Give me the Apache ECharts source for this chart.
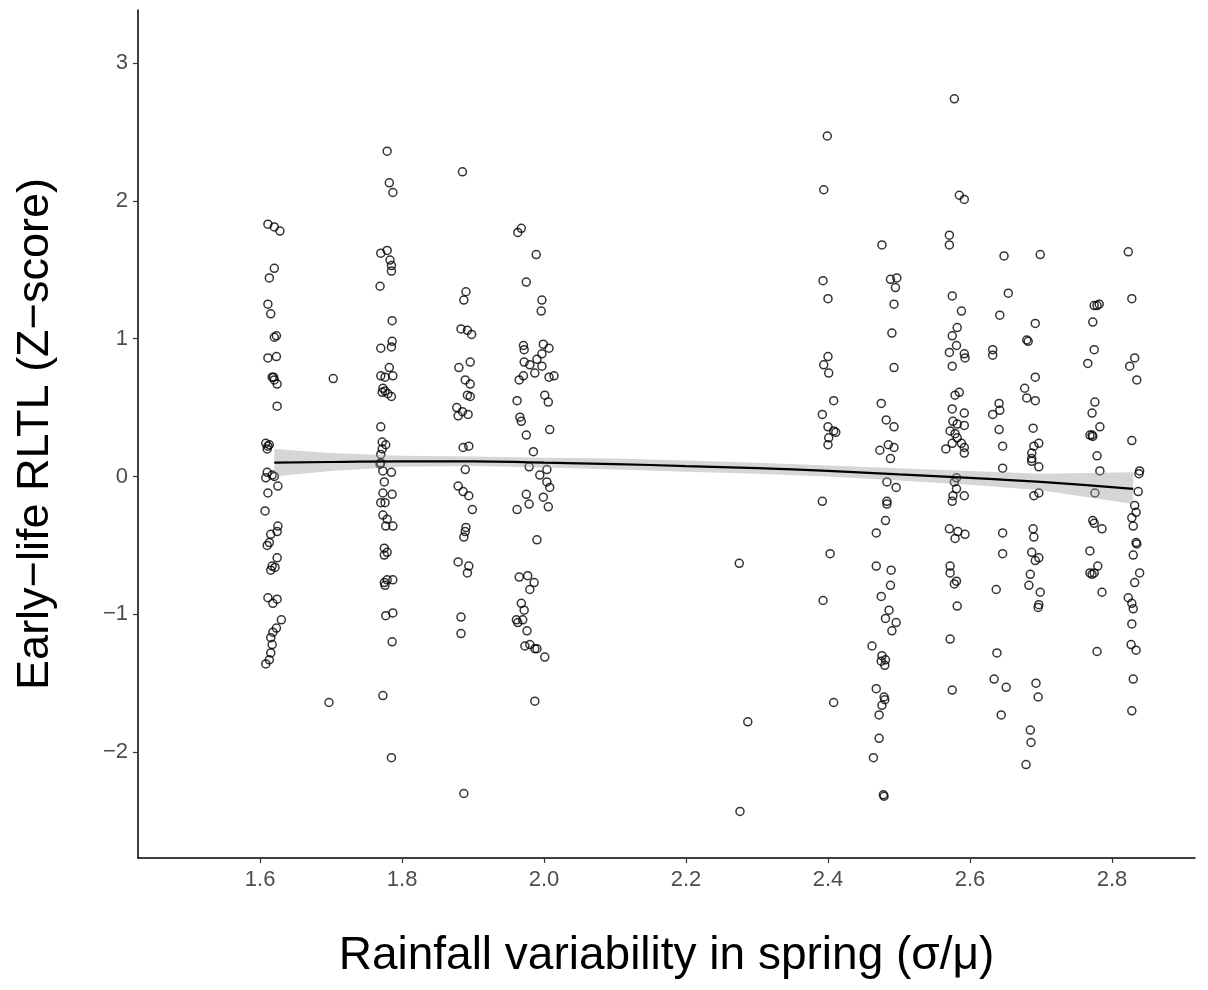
<!DOCTYPE html>
<html>
<head>
<meta charset="utf-8">
<script src="https://cdn.jsdelivr.net/npm/echarts@6/dist/echarts.min.js"></script>
<style>
  html, body { margin: 0; padding: 0; background: #fff; }
  #chart { width: 1208px; height: 990px; }
</style>
</head>
<body>
<div id="chart"></div>
<script>
// ticks
const xTicks = [1.6, 1.8, 2.0, 2.2, 2.4, 2.6, 2.8];
const yTicks = [-2, -1, 0, 1, 2, 3];

// observed points, grouped by rainfall value
const grp161 = [
  [1.611,1.83],[1.620,1.81],[1.628,1.78],[1.620,1.51],[1.613,1.44],[1.611,1.25],[1.615,1.18],
  [1.620,1.01],[1.623,1.02],[1.611,0.86],[1.623,0.87],[1.617,0.72],[1.620,0.70],[1.624,0.67],
  [1.619,0.72],[1.624,0.51],[1.608,0.24],[1.613,0.23],[1.610,0.20],[1.611,0.22],[1.610,0.03],
  [1.608,-0.01],[1.620,0.00],[1.617,0.01],[1.611,-0.12],[1.625,-0.07],[1.607,-0.25],[1.625,-0.36],
  [1.624,-0.40],[1.615,-0.42],[1.610,-0.50],[1.613,-0.48],[1.624,-0.59],[1.617,-0.65],[1.615,-0.68],
  [1.621,-0.66],[1.611,-0.88],[1.618,-0.92],[1.624,-0.89],[1.630,-1.04],[1.623,-1.10],[1.618,-1.13],
  [1.615,-1.17],[1.617,-1.22],[1.615,-1.28],[1.608,-1.36],[1.613,-1.33]
];
const grp170 = [[1.703,0.71],[1.697,-1.64]];
const grp178 = [
  [1.779,2.36],[1.782,2.13],[1.787,2.06],[1.770,1.62],[1.779,1.64],[1.783,1.57],[1.785,1.53],
  [1.785,1.49],[1.769,1.38],[1.786,1.13],[1.786,0.98],[1.785,0.94],[1.770,0.93],[1.782,0.79],
  [1.770,0.73],[1.776,0.72],[1.787,0.73],[1.773,0.64],[1.772,0.61],[1.776,0.62],[1.780,0.60],
  [1.785,0.58],[1.770,0.36],[1.772,0.25],[1.777,0.23],[1.772,0.20],[1.770,0.16],[1.770,0.10],
  [1.769,0.09],[1.773,0.04],[1.785,0.03],[1.775,-0.04],[1.773,-0.12],[1.786,-0.13],[1.770,-0.19],
  [1.776,-0.19],[1.773,-0.28],[1.779,-0.31],[1.777,-0.36],[1.787,-0.36],[1.775,-0.52],[1.779,-0.55],
  [1.775,-0.57],[1.775,-0.77],[1.779,-0.75],[1.787,-0.75],[1.776,-0.79],[1.777,-1.01],[1.787,-0.99],
  [1.786,-1.20],[1.773,-1.59],[1.785,-2.04]
];
const grp188 = [
  [1.885,2.21],[1.890,1.34],[1.887,1.28],[1.883,1.07],[1.892,1.06],[1.898,1.03],[1.880,0.79],
  [1.896,0.83],[1.889,0.70],[1.896,0.67],[1.892,0.59],[1.896,0.58],[1.877,0.50],[1.885,0.47],
  [1.879,0.44],[1.893,0.45],[1.886,0.21],[1.894,0.22],[1.889,0.05],[1.879,-0.07],[1.886,-0.11],
  [1.894,-0.14],[1.899,-0.24],[1.890,-0.37],[1.889,-0.40],[1.887,-0.44],[1.879,-0.62],[1.894,-0.65],
  [1.892,-0.70],[1.883,-1.02],[1.883,-1.14],[1.887,-2.30]
];
const grp198 = [
  [1.968,1.80],[1.963,1.77],[1.989,1.61],[1.975,1.41],[1.997,1.28],[1.996,1.20],[1.971,0.95],
  [1.972,0.92],[1.999,0.96],[2.007,0.93],[1.997,0.89],[1.990,0.85],[1.972,0.83],[1.980,0.81],
  [1.997,0.80],[1.987,0.75],[1.971,0.73],[1.965,0.70],[2.007,0.72],[2.014,0.73],[1.962,0.55],
  [2.001,0.59],[2.006,0.54],[1.966,0.43],[1.968,0.40],[2.008,0.34],[1.975,0.30],[1.985,0.18],
  [1.979,0.07],[2.004,0.05],[1.994,0.01],[2.004,-0.04],[2.008,-0.08],[1.975,-0.13],[1.999,-0.15],
  [1.979,-0.20],[2.006,-0.22],[1.962,-0.24],[1.990,-0.46],[1.965,-0.73],[1.977,-0.72],[1.986,-0.77],
  [1.980,-0.82],[1.968,-0.92],[1.972,-0.97],[1.961,-1.04],[1.963,-1.06],[1.970,-1.04],[1.976,-1.12],
  [1.973,-1.23],[1.980,-1.22],[1.987,-1.25],[1.990,-1.25],[2.001,-1.31],[1.987,-1.63]
];
const grp227 = [[2.275,-0.63],[2.287,-1.78],[2.276,-2.43]];
const grp240 = [
  [2.399,2.47],[2.394,2.08],[2.393,1.42],[2.400,1.29],[2.400,0.87],[2.394,0.81],[2.401,0.75],
  [2.408,0.55],[2.392,0.45],[2.400,0.36],[2.408,0.33],[2.411,0.32],[2.401,0.28],[2.400,0.23],
  [2.392,-0.18],[2.403,-0.56],[2.393,-0.90],[2.408,-1.64]
];
const grp248 = [
  [2.476,1.68],[2.488,1.43],[2.497,1.44],[2.495,1.37],[2.493,1.25],[2.490,1.04],[2.493,0.79],
  [2.475,0.53],[2.482,0.41],[2.493,0.36],[2.485,0.23],[2.493,0.21],[2.473,0.19],[2.488,0.13],
  [2.483,-0.04],[2.496,-0.08],[2.483,-0.18],[2.483,-0.20],[2.481,-0.32],[2.468,-0.41],[2.468,-0.65],
  [2.489,-0.68],[2.488,-0.79],[2.475,-0.87],[2.486,-0.97],[2.481,-1.03],[2.496,-1.06],[2.490,-1.12],
  [2.462,-1.23],[2.476,-1.30],[2.475,-1.34],[2.481,-1.33],[2.480,-1.37],[2.468,-1.54],[2.479,-1.60],
  [2.480,-1.62],[2.476,-1.66],[2.472,-1.73],[2.472,-1.90],[2.464,-2.04],[2.478,-2.31],[2.479,-2.32]
];
const grp258 = [
  [2.578,2.74],[2.585,2.04],[2.592,2.01],[2.571,1.75],[2.571,1.68],[2.575,1.31],[2.588,1.20],
  [2.582,1.08],[2.575,1.02],[2.581,0.95],[2.571,0.90],[2.592,0.89],[2.593,0.86],[2.575,0.80],
  [2.579,0.59],[2.585,0.61],[2.575,0.49],[2.592,0.46],[2.576,0.40],[2.592,0.37],[2.582,0.38],
  [2.572,0.33],[2.579,0.31],[2.582,0.28],[2.566,0.20],[2.575,0.24],[2.588,0.24],[2.592,0.21],
  [2.592,0.17],[2.581,-0.01],[2.578,-0.04],[2.581,-0.09],[2.576,-0.14],[2.575,-0.18],[2.592,-0.14],
  [2.571,-0.38],[2.583,-0.40],[2.593,-0.42],[2.579,-0.45],[2.572,-0.65],[2.572,-0.70],[2.578,-0.78],
  [2.581,-0.76],[2.582,-0.94],[2.572,-1.18],[2.575,-1.55]
];
const grp264 = [
  [2.648,1.60],[2.654,1.33],[2.642,1.17],[2.632,0.92],[2.632,0.88],[2.641,0.53],[2.642,0.48],
  [2.632,0.45],[2.641,0.34],[2.646,0.22],[2.646,0.06],[2.646,-0.41],[2.646,-0.56],[2.637,-0.82],
  [2.638,-1.28],[2.634,-1.47],[2.651,-1.53],[2.644,-1.73]
];
const grp268 = [
  [2.699,1.61],[2.692,1.11],[2.680,0.99],[2.682,0.98],[2.692,0.72],[2.677,0.64],[2.680,0.57],
  [2.692,0.55],[2.689,0.35],[2.690,0.22],[2.697,0.24],[2.687,0.17],[2.687,0.13],[2.687,0.11],
  [2.697,0.07],[2.697,-0.12],[2.690,-0.14],[2.689,-0.38],[2.690,-0.44],[2.687,-0.55],[2.692,-0.61],
  [2.697,-0.59],[2.685,-0.71],[2.683,-0.79],[2.699,-0.84],[2.697,-0.93],[2.696,-0.95],[2.693,-1.50],
  [2.696,-1.60],[2.685,-1.84],[2.686,-1.93],[2.679,-2.09]
];
const grp277 = [
  [2.775,1.24],[2.779,1.24],[2.782,1.25],[2.773,1.12],[2.775,0.92],[2.766,0.82],[2.776,0.54],
  [2.772,0.46],[2.783,0.36],[2.769,0.30],[2.772,0.30],[2.773,0.29],[2.779,0.15],[2.783,0.04],
  [2.776,-0.12],[2.773,-0.32],[2.775,-0.34],[2.786,-0.38],[2.769,-0.54],[2.780,-0.65],[2.769,-0.70],
  [2.772,-0.71],[2.775,-0.70],[2.786,-0.84],[2.779,-1.27]
];
const grp283 = [
  [2.823,1.63],[2.828,1.29],[2.832,0.86],[2.825,0.80],[2.835,0.70],[2.828,0.26],[2.839,0.04],
  [2.838,0.02],[2.837,-0.11],[2.832,-0.21],[2.834,-0.26],[2.828,-0.30],[2.830,-0.36],[2.834,-0.48],
  [2.835,-0.49],[2.830,-0.57],[2.839,-0.70],[2.832,-0.77],[2.823,-0.88],[2.828,-0.92],[2.830,-0.96],
  [2.828,-1.07],[2.827,-1.22],[2.834,-1.26],[2.830,-1.47],[2.828,-1.70]
];

// smoothed fit and its confidence band
const fitX     = [1.62, 1.70, 1.80, 1.90, 2.00, 2.10, 2.20, 2.30, 2.40, 2.50, 2.60, 2.70, 2.83];
const fitY     = [0.10, 0.105, 0.11, 0.11, 0.10, 0.09, 0.075, 0.06, 0.04, 0.015, -0.01, -0.04, -0.09];
const fitLower = [0.00, 0.04, 0.07, 0.075, 0.065, 0.05, 0.035, 0.02, 0.00, -0.03, -0.06, -0.10, -0.20];
const fitUpper = [0.20, 0.17, 0.15, 0.145, 0.135, 0.13, 0.115, 0.10, 0.08, 0.06, 0.04, 0.02, 0.03];

const points = [].concat(grp161, grp170, grp178, grp188, grp198, grp227, grp240,
  grp248, grp258, grp264, grp268, grp277, grp283);

const bandPoly = fitX.map((x, i) => [x, fitUpper[i]])
  .concat(fitX.map((x, i) => [x, fitLower[i]]).reverse());

const minus = v => String(v).replace('-', '\u2212');
const font = 'Liberation Sans, Arial, sans-serif';

const chart = echarts.init(document.getElementById('chart'));
chart.setOption({
  animation: false,
  backgroundColor: '#fff',
  grid: { left: 138, right: 13, top: 10, bottom: 132 },
  xAxis: {
    type: 'value',
    min: 1.428,
    max: 2.917,
    name: 'Rainfall variability in spring (\u03C3/\u03BC)',
    nameLocation: 'middle',
    nameGap: 75,
    nameTextStyle: { fontFamily: font, fontSize: 46, color: '#000' },
    axisLine: { show: true, onZero: false, lineStyle: { color: '#000', width: 1.5 } },
    axisTick: { show: true, customValues: xTicks, length: 5, lineStyle: { color: '#333', width: 1.2 } },
    axisLabel: {
      customValues: xTicks, formatter: v => v.toFixed(1),
      fontFamily: font, fontSize: 22, color: '#4d4d4d', margin: 11
    },
    splitLine: { show: false }
  },
  yAxis: {
    type: 'value',
    min: -2.768,
    max: 3.384,
    name: 'Early\u2212life RLTL (Z\u2212score)',
    nameLocation: 'middle',
    nameGap: 80,
    nameTextStyle: { fontFamily: font, fontSize: 45, color: '#000' },
    axisLine: { show: true, onZero: false, lineStyle: { color: '#000', width: 1.5 } },
    axisTick: { show: true, customValues: yTicks, length: 5, lineStyle: { color: '#333', width: 1.2 } },
    axisLabel: {
      customValues: yTicks, formatter: v => minus(v),
      fontFamily: font, fontSize: 22, color: '#4d4d4d', margin: 10
    },
    splitLine: { show: false }
  },
  series: [
    {
      type: 'scatter',
      data: points,
      symbol: 'circle',
      symbolSize: 8,
      itemStyle: { color: 'rgba(255,255,255,0)', borderColor: '#000', borderWidth: 1.5 },
      z: 2
    },
    {
      type: 'custom',
      data: [0],
      renderItem: (params, api) => ({
        type: 'polygon',
        shape: { points: bandPoly.map(p => api.coord(p)) },
        style: { fill: 'rgba(153,153,153,0.4)' }
      }),
      z: 3,
      silent: true
    },
    {
      type: 'line',
      data: fitX.map((x, i) => [x, fitY[i]]),
      smooth: true,
      showSymbol: false,
      lineStyle: { color: '#000', width: 2.2 },
      z: 4
    }
  ]
});
</script>
</body>
</html>
